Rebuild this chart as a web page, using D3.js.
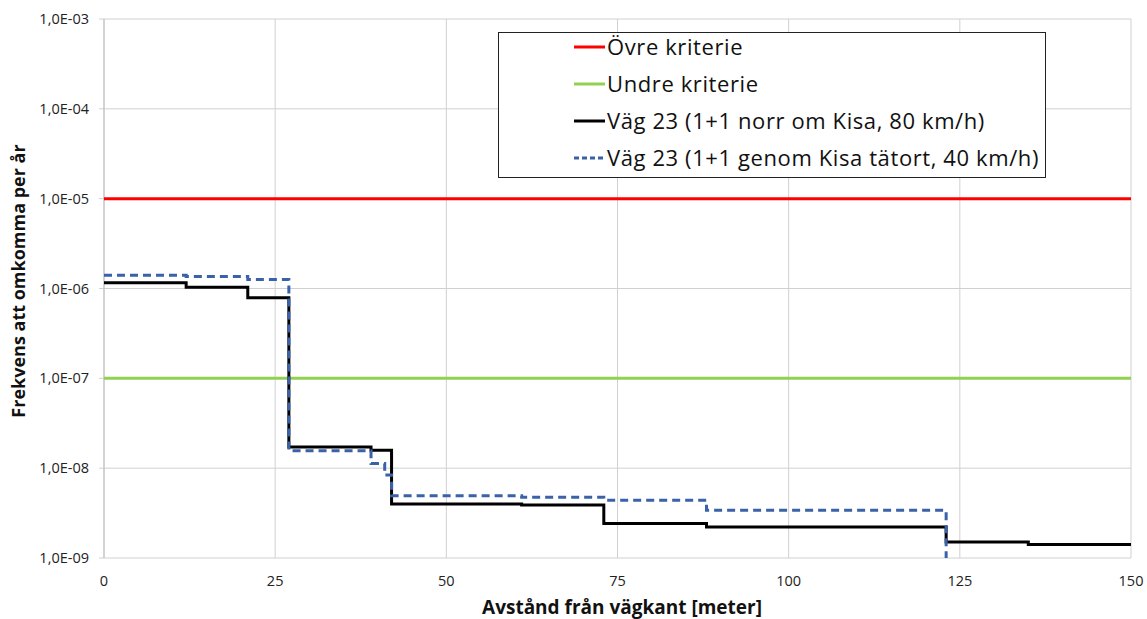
<!DOCTYPE html>
<html>
<head>
<meta charset="utf-8">
<script src="https://cdn.jsdelivr.net/npm/d3@7"></script>
<style>
  body { margin: 0; background: #fff; }
  svg { font-family: "Open Sans", sans-serif; }
</style>
</head>
<body>
<div id="chart"></div>
<script>
// distance breakpoints (m) and frequencies
const blackX = [0, 12, 21, 27, 39, 42, 61, 73, 88, 123, 135, 150];
const blackY = [1.16e-6, 1.03e-6, 7.9e-7, 1.72e-8, 1.58e-8, 3.98e-9, 3.88e-9, 2.42e-9, 2.22e-9, 1.51e-9, 1.41e-9, 1.41e-9];
const blueX = [0, 12, 21, 27, 39, 41, 42, 61, 73, 88, 123];
const blueY = [1.40e-6, 1.36e-6, 1.26e-6, 1.56e-8, 1.13e-8, 8.4e-9, 4.93e-9, 4.75e-9, 4.4e-9, 3.4e-9, 1e-9];
const upperCriterion = 1e-5;
const lowerCriterion = 1e-7;
const xTicks = [0, 25, 50, 75, 100, 125, 150];
const yTicks = [1e-9, 1e-8, 1e-7, 1e-6, 1e-5, 1e-4, 1e-3];
const legendLabels = ["Övre kriterie", "Undre kriterie", "Väg 23 (1+1 norr om Kisa, 80 km/h)", "Väg 23 (1+1 genom Kisa tätort, 40 km/h)"];

const width = 1147, height = 619;
const margin = { left: 104, right: 16, top: 19, bottom: 61 };

const svg = d3.select("#chart").append("svg")
    .attr("width", width)
    .attr("height", height);

const x = d3.scaleLinear().domain([0, 150]).range([margin.left, width - margin.right]);
const y = d3.scaleLog().domain([1e-9, 1e-3]).range([height - margin.bottom, margin.top]);

// grid
svg.append("g")
    .selectAll("line")
    .data(xTicks)
    .enter().append("line")
    .attr("x1", d => x(d)).attr("x2", d => x(d))
    .attr("y1", y(1e-9)).attr("y2", y(1e-3))
    .attr("stroke", "#d0d0d0").attr("stroke-width", 1);

svg.append("g")
    .selectAll("line")
    .data(yTicks)
    .enter().append("line")
    .attr("x1", x(0) - 5).attr("x2", x(150))
    .attr("y1", d => y(d)).attr("y2", d => y(d))
    .attr("stroke", "#d0d0d0").attr("stroke-width", 1);

// left axis line
svg.append("line")
    .attr("x1", x(0)).attr("x2", x(0))
    .attr("y1", y(1e-9)).attr("y2", y(1e-3))
    .attr("stroke", "#bfbfbf");

// tick labels
const fmt = d => "1,0E-" + String(-Math.round(Math.log10(d))).padStart(2, "0");
svg.append("g")
    .selectAll("text")
    .data(yTicks)
    .enter().append("text")
    .attr("x", x(0) - 15)
    .attr("y", d => y(d) + 5)
    .attr("text-anchor", "end")
    .attr("font-size", 14.5)
    .attr("fill", "#222")
    .text(fmt);

svg.append("g")
    .selectAll("text")
    .data(xTicks)
    .enter().append("text")
    .attr("x", d => x(d))
    .attr("y", y(1e-9) + 28)
    .attr("text-anchor", "middle")
    .attr("font-size", 14.5)
    .attr("fill", "#222")
    .text(d => d);

// axis titles
svg.append("text")
    .attr("x", 622)
    .attr("y", 614)
    .attr("text-anchor", "middle")
    .attr("font-size", 19)
    .attr("font-weight", "bold")
    .attr("fill", "#111")
    .text("Avstånd från vägkant [meter]");

svg.append("text")
    .attr("transform", "translate(25, 281) rotate(-90)")
    .attr("text-anchor", "middle")
    .attr("font-size", 18)
    .attr("font-weight", "bold")
    .attr("fill", "#111")
    .text("Frekvens att omkomma per år");

// criteria lines
svg.append("line")
    .attr("x1", x(0)).attr("x2", x(150))
    .attr("y1", y(upperCriterion)).attr("y2", y(upperCriterion))
    .attr("stroke", "#ff0000").attr("stroke-width", 3);

svg.append("line")
    .attr("x1", x(0)).attr("x2", x(150))
    .attr("y1", y(lowerCriterion)).attr("y2", y(lowerCriterion))
    .attr("stroke", "#92d050").attr("stroke-width", 3);

// step series
const stepLine = d3.line()
    .x(d => x(d[0]))
    .y(d => y(d[1]))
    .curve(d3.curveStepAfter);

svg.append("path")
    .datum(d3.zip(blackX, blackY))
    .attr("d", stepLine)
    .attr("fill", "none")
    .attr("stroke", "#000")
    .attr("stroke-width", 3);

svg.append("path")
    .datum(d3.zip(blueX, blueY))
    .attr("d", stepLine)
    .attr("fill", "none")
    .attr("stroke", "#3a62a8")
    .attr("stroke-width", 3)
    .attr("stroke-dasharray", "8,5");

// legend
const legend = svg.append("g");
legend.append("rect")
    .attr("x", 498.5).attr("y", 32.5)
    .attr("width", 547).attr("height", 145)
    .attr("fill", "#fff")
    .attr("stroke", "#222").attr("stroke-width", 1);

const legendColors = ["#ff0000", "#92d050", "#000", "#3a62a8"];
const legendDash = [null, null, null, "5,3"];
legendLabels.forEach((label, i) => {
    const ly = 47 + i * 37;
    legend.append("line")
        .attr("x1", 574).attr("x2", 605)
        .attr("y1", ly).attr("y2", ly)
        .attr("stroke", legendColors[i])
        .attr("stroke-width", 3)
        .attr("stroke-dasharray", legendDash[i]);
    legend.append("text")
        .attr("x", 607)
        .attr("y", ly + 8)
        .attr("font-size", 22)
        .attr("letter-spacing", 0.6)
        .attr("fill", "#111")
        .text(label);
});
</script>
</body>
</html>
